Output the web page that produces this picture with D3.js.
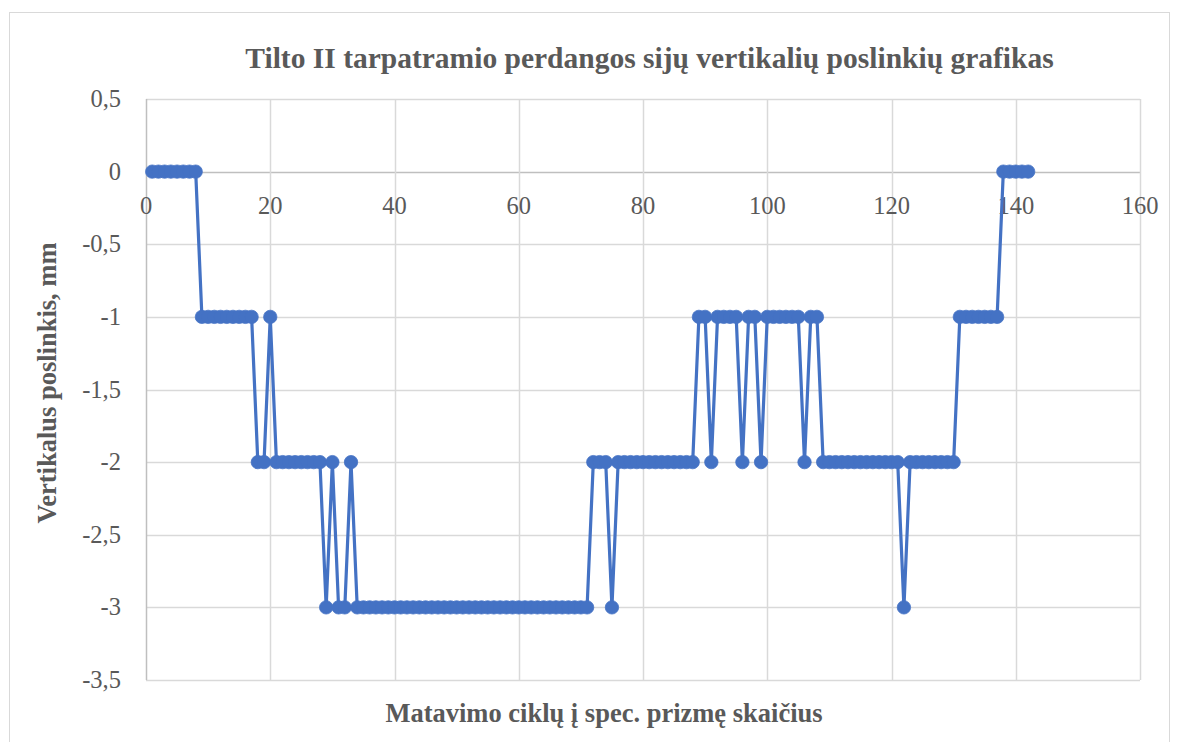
<!DOCTYPE html>
<html>
<head>
<meta charset="utf-8">
<script src="https://cdn.jsdelivr.net/npm/d3@7"></script>
<style>
  html, body { margin: 0; padding: 0; background: #fff; }
  svg { display: block; }
  text { font-family: "Liberation Serif", "Times New Roman", serif; fill: #595959; }
</style>
</head>
<body>
<svg id="chart" width="1178" height="742"></svg>
<script>
const chartTitle = "Tilto II tarpatramio perdangos sijų vertikalių poslinkių grafikas";
const xAxisTitle = "Matavimo ciklų į spec. prizmę skaičius";
const yAxisTitle = "Vertikalus poslinkis, mm";

const xTicks = [0, 20, 40, 60, 80, 100, 120, 140, 160];
const yTicks = [0.5, 0, -0.5, -1, -1.5, -2, -2.5, -3, -3.5];

// Measurement cycles 1..142
const displacement = [
  0, 0, 0, 0, 0, 0, 0, 0,
  -1, -1, -1, -1, -1, -1, -1, -1, -1,
  -2, -2,
  -1,
  -2, -2, -2, -2, -2, -2, -2, -2,
  -3, -2, -3, -3, -2,
  -3, -3, -3, -3, -3, -3, -3, -3, -3, -3,
  -3, -3, -3, -3, -3, -3, -3, -3, -3, -3,
  -3, -3, -3, -3, -3, -3, -3, -3, -3, -3,
  -3, -3, -3, -3, -3, -3, -3, -3,
  -2, -2, -2, -3,
  -2, -2, -2, -2, -2, -2, -2, -2, -2, -2, -2, -2, -2,
  -1, -1, -2, -1, -1, -1, -1, -2, -1, -1, -2,
  -1, -1, -1, -1, -1, -1, -2, -1, -1,
  -2, -2, -2, -2, -2, -2, -2, -2, -2, -2, -2, -2, -2,
  -3,
  -2, -2, -2, -2, -2, -2, -2, -2,
  -1, -1, -1, -1, -1, -1, -1,
  0, 0, 0, 0, 0
];

const data = displacement.map((v, i) => ({ x: i + 1, y: v }));

const svg = d3.select("#chart");
const plot = { left: 146, top: 99, right: 1140, bottom: 680 };

// chart border
svg.append("rect")
  .attr("x", 9.5).attr("y", 12.5)
  .attr("width", 1160).attr("height", 740)
  .attr("fill", "#fff").attr("stroke", "#d9d9d9").attr("stroke-width", 1);

const x = d3.scaleLinear().domain([0, 160]).range([plot.left, plot.right]);
const y = d3.scaleLinear().domain([-3.5, 0.5]).range([plot.bottom, plot.top]);

// horizontal gridlines
svg.append("g")
  .selectAll("line").data(yTicks).join("line")
  .attr("x1", plot.left).attr("x2", plot.right)
  .attr("y1", d => Math.round(y(d)) + 0.5).attr("y2", d => Math.round(y(d)) + 0.5)
  .attr("stroke", d => d === 0 ? "#bfbfbf" : "#d9d9d9").attr("stroke-width", 1.5);

// vertical gridlines
svg.append("g")
  .selectAll("line").data(xTicks).join("line")
  .attr("x1", d => Math.round(x(d)) + 0.5).attr("x2", d => Math.round(x(d)) + 0.5)
  .attr("y1", plot.top).attr("y2", plot.bottom)
  .attr("stroke", d => d === 0 ? "#bfbfbf" : "#d9d9d9").attr("stroke-width", 1.5);

// y tick labels
svg.append("g")
  .selectAll("text").data(yTicks).join("text")
  .attr("x", 121).attr("y", d => y(d))
  .attr("dy", "0.33em")
  .attr("text-anchor", "end")
  .attr("font-size", 24.5)
  .text(d => d3.format("")(d).replace(".", ",").replace("−", "-"));

// x tick labels (below the zero line)
svg.append("g")
  .selectAll("text").data(xTicks).join("text")
  .attr("x", d => x(d)).attr("y", y(0) + 42)
  .attr("text-anchor", "middle")
  .attr("font-size", 24.5)
  .text(d => d);

// line
const line = d3.line().x(d => x(d.x)).y(d => y(d.y));
svg.append("path")
  .datum(data)
  .attr("d", line)
  .attr("fill", "none")
  .attr("stroke", "#4472C4")
  .attr("stroke-width", 3.2)
  .attr("stroke-linejoin", "round");

// markers
svg.append("g")
  .selectAll("circle").data(data).join("circle")
  .attr("cx", d => x(d.x)).attr("cy", d => y(d.y))
  .attr("r", 6.7)
  .attr("fill", "#4472C4")
  .attr("stroke", "#4472C4").attr("stroke-width", 0.75);

// titles
svg.append("text")
  .attr("x", 649.5).attr("y", 68)
  .attr("text-anchor", "middle")
  .attr("font-size", 29.5).attr("font-weight", "bold")
  .text(chartTitle);

svg.append("text")
  .attr("x", 604).attr("y", 722)
  .attr("text-anchor", "middle")
  .attr("font-size", 26.5).attr("font-weight", "bold")
  .text(xAxisTitle);

svg.append("text")
  .attr("transform", "translate(56,383) rotate(-90)")
  .attr("text-anchor", "middle")
  .attr("font-size", 26.5).attr("font-weight", "bold")
  .text(yAxisTitle);
</script>
</body>
</html>
